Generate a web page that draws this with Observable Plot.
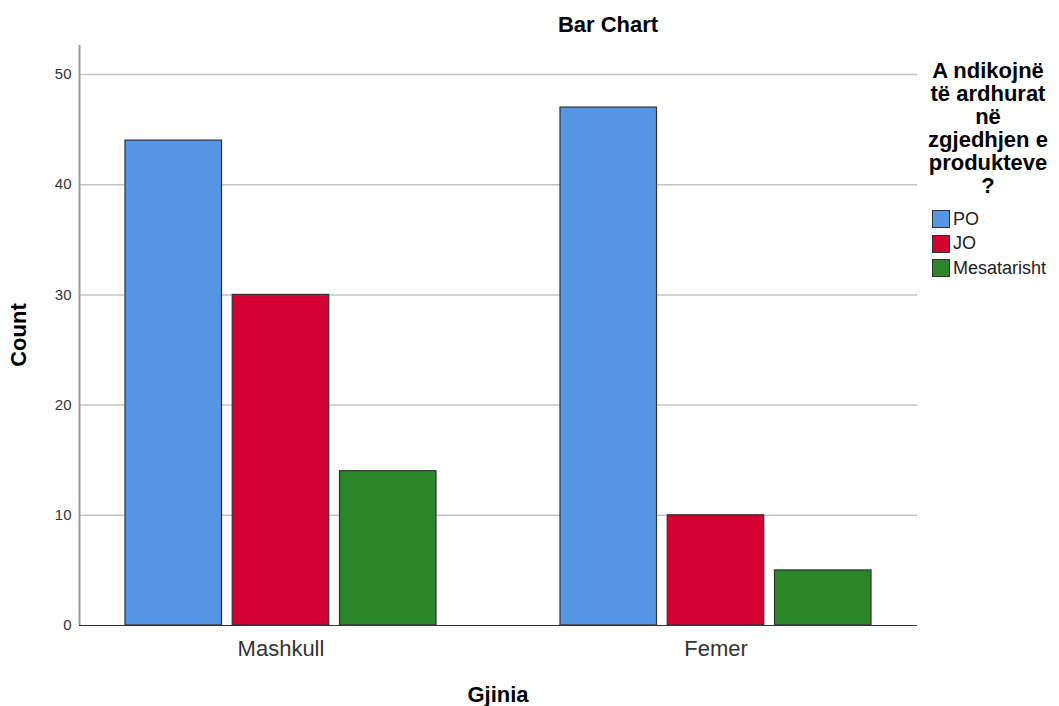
<!DOCTYPE html>
<html>
<head>
<meta charset="utf-8">
<script src="https://cdn.jsdelivr.net/npm/d3@7"></script>
<script src="https://cdn.jsdelivr.net/npm/@observablehq/plot@0.6"></script>
<style>
  body { margin: 0; background: #fff; font-family: "Liberation Sans", Arial, sans-serif; }
  #wrap { position: relative; width: 1059px; height: 706px; overflow: hidden; }
  #wrap svg { position: absolute; left: 0; top: 0; }
  .t { position: absolute; color: #000; font-weight: bold; font-size: 22px; line-height: 22px; white-space: nowrap; }
  #legend { position: absolute; left: 932px; top: 207px; font-size: 18px; color: #222; }
  #legend .item { height: 24.5px; display: flex; align-items: center; }
  #legend .sw { width: 18px; height: 18px; border: 1px solid #333; margin-right: 3px; box-sizing: border-box; }
</style>
</head>
<body>
<div id="wrap"></div>
<script>
const genders = ["Mashkull", "Femer"];
const responses = ["PO", "JO", "Mesatarisht"];
const countsMashkull = [44, 30, 14];
const countsFemer = [47, 10, 5];
const colors = ["#5694e4", "#d50032", "#2a8629"];
const yTicks = [0, 10, 20, 30, 40, 50];
const gridValues = [10, 20, 30, 40, 50];
const yMax = 52.63;
const titleText = "Bar Chart";
const xTitle = "Gjinia";
const yTitle = "Count";
const legendTitleLines = ["A ndikojnë", "të ardhurat", "në", "zgjedhjen e", "produkteve", "?"];

const data = [];
responses.forEach((r, i) => data.push({gender: "Mashkull", response: r, count: countsMashkull[i]}));
responses.forEach((r, i) => data.push({gender: "Femer", response: r, count: countsFemer[i]}));

const W = 1059, H = 706;
const margins = {marginLeft: 79, marginRight: 142, marginTop: 45, marginBottom: 81};

const bg = Plot.plot({
  width: W, height: H, ...margins,
  style: {background: "transparent", fontSize: "15px", fontFamily: "Liberation Sans, Arial, sans-serif", color: "#333"},
  x: {domain: [0, 1], axis: null},
  y: {domain: [0, yMax], ticks: yTicks, tickSize: 0, tickPadding: 8, label: null},
  marks: [
    Plot.ruleY(gridValues, {stroke: "#c4c4c4", strokeWidth: 1.5}),
    Plot.ruleX([0], {stroke: "#999", strokeWidth: 2}),
    Plot.ruleY([0], {stroke: "#333", strokeWidth: 1})
  ]
});

const fg = Plot.plot({
  width: W, height: H, ...margins,
  style: {background: "transparent", fontSize: "22px", fontFamily: "Liberation Sans, Arial, sans-serif", color: "#333"},
  fx: {domain: genders, paddingInner: 0.285, paddingOuter: 0.1057, round: false, label: null, tickSize: 0, tickPadding: 15, axis: "bottom"},
  x: {domain: responses, paddingInner: 0.1, paddingOuter: 0, round: false, axis: null},
  y: {domain: [0, yMax], axis: null},
  color: {domain: responses, range: colors},
  marks: [
    Plot.barY(data, {fx: "gender", x: "response", y: "count", fill: "response", stroke: "#333", strokeWidth: 1.2})
  ]
});

const wrap = document.getElementById("wrap");
wrap.appendChild(bg);
wrap.appendChild(fg);

function addText(txt, css) {
  const d = document.createElement("div");
  d.className = "t";
  d.textContent = txt;
  Object.assign(d.style, css);
  wrap.appendChild(d);
  return d;
}
addText(titleText, {left: (608 - 100) + "px", top: "14px", width: "200px", textAlign: "center"});
addText(xTitle, {left: (498 - 100) + "px", top: "684px", width: "200px", textAlign: "center"});
addText(yTitle, {left: (19 - 100) + "px", top: (335 - 11) + "px", width: "200px", textAlign: "center", transform: "rotate(-90deg)"});

const lt = document.createElement("div");
lt.className = "t";
Object.assign(lt.style, {left: "917px", top: "59px", width: "142px", textAlign: "center", lineHeight: "23px"});
lt.innerHTML = legendTitleLines.map(s => s.replace(/&/g, "&amp;").replace(/</g, "&lt;")).join("<br>");
wrap.appendChild(lt);

const lg = document.createElement("div");
lg.id = "legend";
responses.forEach((r, i) => {
  const it = document.createElement("div");
  it.className = "item";
  const sw = document.createElement("span");
  sw.className = "sw";
  sw.style.background = colors[i];
  const lab = document.createElement("span");
  lab.textContent = r;
  it.appendChild(sw);
  it.appendChild(lab);
  lg.appendChild(it);
});
wrap.appendChild(lg);
</script>
</body>
</html>
